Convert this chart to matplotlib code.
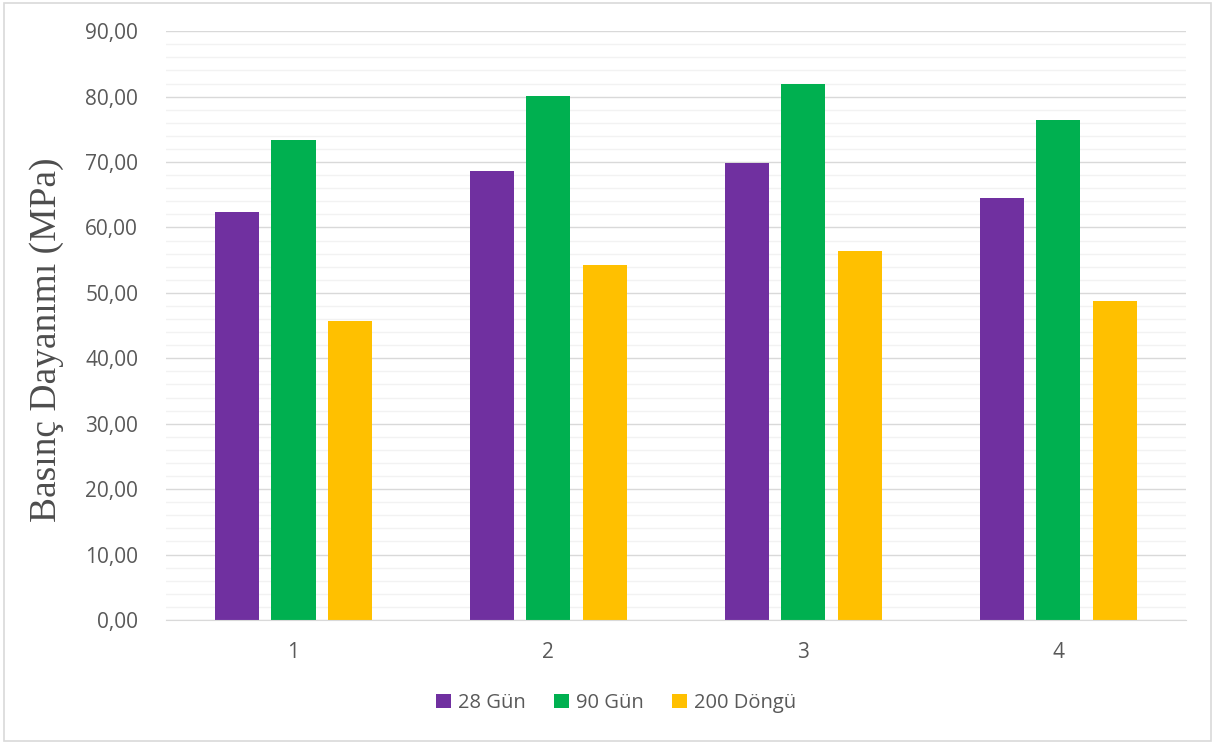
import matplotlib

matplotlib.use("Agg")

import matplotlib.pyplot as plt
import numpy as np
from matplotlib.patches import Rectangle
from matplotlib.ticker import FuncFormatter, MultipleLocator

groups = ["1", "2", "3", "4"]
series_names = ["28 Gün", "90 Gün", "200 Döngü"]
gun28 = [62.3, 68.6, 69.9, 64.5]
gun90 = [73.3, 80.1, 82.0, 76.4]
dongu200 = [45.7, 54.2, 56.4, 48.8]
colors = ["#7030a0", "#00b050", "#ffc000"]

fig = plt.figure(figsize=(12.15, 7.44), dpi=100)
ax = fig.add_axes([0.1366, 0.1667, 0.8394, 0.7913])

x = np.arange(len(groups))
width = 0.173
step = 0.222
for i, (vals, name, col) in enumerate(zip([gun28, gun90, dongu200], series_names, colors)):
    ax.bar(x + (i - 1) * step, vals, width, color=col, label=name, zorder=3)

ax.set_xlim(-0.5, len(groups) - 0.5)
ax.set_ylim(0, 90)
ax.yaxis.set_major_locator(MultipleLocator(10))
ax.yaxis.set_minor_locator(MultipleLocator(2))
ax.yaxis.set_major_formatter(FuncFormatter(lambda v, p: f"{v:.2f}".replace(".", ",")))
ax.grid(axis="y", which="minor", color="#f2f2f2", linewidth=1.0, zorder=0)
ax.grid(axis="y", which="major", color="#d9d9d9", linewidth=1.0, zorder=1)
ax.set_xticks(x)
ax.set_xticklabels(groups)
ax.tick_params(axis="both", which="both", length=0, labelsize=15, labelcolor="#595959")
ax.tick_params(axis="y", pad=20)
ax.tick_params(axis="x", pad=16)
for lab in ax.get_xticklabels() + ax.get_yticklabels():
    lab.set_family("Open Sans")
for side in ["top", "right", "left"]:
    ax.spines[side].set_visible(False)
ax.spines["bottom"].set_color("#d9d9d9")
ax.spines["bottom"].set_zorder(4)

ax.set_ylabel("Basınç Dayanımı (MPa)", family="Liberation Serif", fontsize=27, color="#4d4d4d")
ax.yaxis.set_label_coords(-0.1, 0.476)

leg = fig.legend(loc="center", bbox_to_anchor=(0.507, 0.055), ncol=3, frameon=False,
                 prop={"family": "Open Sans", "size": 14.5}, handlelength=0.75, handleheight=0.75,
                 handletextpad=0.35, columnspacing=1.4)
for t in leg.get_texts():
    t.set_color("#595959")

fig.patches.append(Rectangle((0.003, 0.004), 0.994, 0.992, transform=fig.transFigure,
                             fill=False, edgecolor="#d9d9d9", linewidth=1.2))

fig.savefig("out.png", facecolor="white")
